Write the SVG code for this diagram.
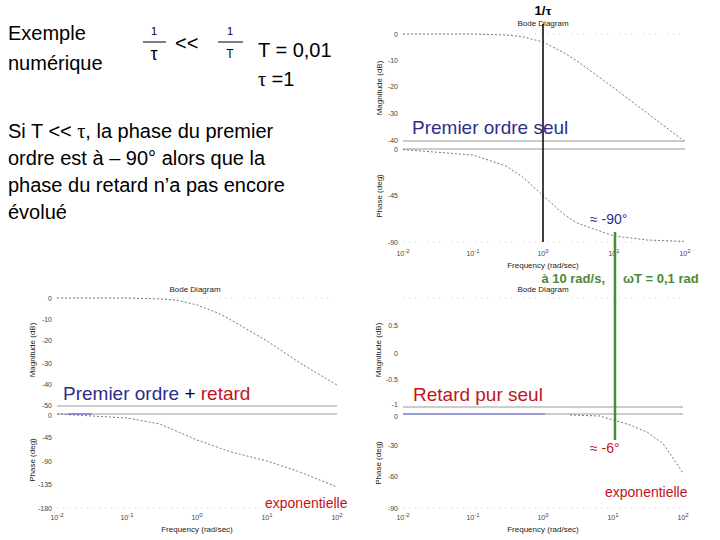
<svg xmlns="http://www.w3.org/2000/svg" width="720" height="540" viewBox="0 0 720 540">
<style>
text{font-family:"Liberation Sans",Arial,sans-serif}
.t{font-size:20px;fill:#000}
.tk{font-size:7px;fill:#444}
.ax{font-size:8px;fill:#222}
.sep{stroke:#999;stroke-width:1.2}
.cur{fill:none;stroke:#777;stroke-width:1;stroke-dasharray:2 2}
.dot{stroke:#ccc;stroke-width:1;stroke-dasharray:1 5}
.lb{font-size:19px}
</style>
<rect width="720" height="540" fill="#fff"/>
<g id="intro">
<text class="t" x="8" y="40">Exemple</text>
<text class="t" x="8" y="70">numérique</text>
<text x="154" y="35" font-size="11" text-anchor="middle">1</text>
<line x1="143" y1="42" x2="166" y2="42" stroke="#000"/>
<text x="154" y="60" font-size="18" font-family="Liberation Serif,serif" text-anchor="middle">τ</text>
<text class="t" x="175" y="50">&lt;&lt;</text>
<text x="230" y="35" font-size="11" text-anchor="middle">1</text>
<line x1="218" y1="42" x2="243" y2="42" stroke="#000"/>
<text x="230" y="58" font-size="12" text-anchor="middle">T</text>
<text class="t" x="258" y="57">T = 0,01</text>
<text class="t" x="258" y="86"><tspan font-family="Liberation Serif,serif">τ</tspan> =1</text>
<text class="t" x="8" y="138" font-size="21">Si T &lt;&lt; <tspan font-family="Liberation Serif,serif">τ</tspan>, la phase du premier</text>
<text class="t" x="8" y="165" font-size="21">ordre est à – 90° alors que la</text>
<text class="t" x="8" y="192" font-size="21">phase du retard n’a pas encore</text>
<text class="t" x="8" y="219" font-size="21">évolué</text>
</g>
<g id="plot-premier-ordre">
<text class="ax" x="543" y="26" text-anchor="middle">Bode Diagram</text>
<line class="dot" x1="403" y1="34" x2="685" y2="34"/>
<line class="dot" x1="403" y1="242" x2="685" y2="242"/>
<g class="tk" text-anchor="end">
<text x="398" y="37">0</text><text x="398" y="63">-10</text><text x="398" y="89">-20</text><text x="398" y="116">-30</text><text x="398" y="143">-40</text>
<text x="398" y="152">0</text><text x="398" y="198">-45</text><text x="398" y="245">-90</text>
</g>
<g class="tk" text-anchor="middle">
<text x="403" y="256">10<tspan dy="-3" font-size="6">-2</tspan></text><text x="473" y="256">10<tspan dy="-3" font-size="6">-1</tspan></text><text x="543" y="256">10<tspan dy="-3" font-size="6">0</tspan></text><text x="614" y="256">10<tspan dy="-3" font-size="6">1</tspan></text><text x="685" y="256">10<tspan dy="-3" font-size="6">2</tspan></text>
</g>
<text class="ax" x="543" y="268" text-anchor="middle">Frequency (rad/sec)</text>
<text class="ax" transform="translate(382,88) rotate(-90)" text-anchor="middle">Magnitude (dB)</text>
<text class="ax" transform="translate(382,196) rotate(-90)" text-anchor="middle">Phase (deg)</text>
<line class="sep" x1="403" y1="141" x2="685" y2="141"/>
<line class="sep" x1="403" y1="149" x2="685" y2="149"/>
<polyline class="cur" points="403,34 473,34 506,35 522,36.6 543,42 564,52.7 577,61 614,88 647,113 684,141"/>
<polyline class="cur" points="403,149.6 473,155 506,166 522,176.5 543,195.5 564,214.5 577,223 614,236 647,240 684,241.4"/>
<line x1="543" y1="24" x2="543" y2="242" stroke="#000" stroke-width="1.5"/>
<text x="543" y="15" font-size="13" font-weight="bold" text-anchor="middle">1/<tspan font-family="Liberation Serif,serif">τ</tspan></text>
<text class="lb" x="412" y="134" fill="#2e2e8a">Premier ordre seul</text>
<text x="590" y="224" font-size="14" fill="#2e2e8a">≈ -90°</text>
</g>
<g id="plot-premier-ordre-retard">
<text class="ax" x="195" y="292" text-anchor="middle">Bode Diagram</text>
<line class="dot" x1="57" y1="298" x2="337" y2="298"/>
<line class="dot" x1="57" y1="508" x2="337" y2="508"/>
<g class="tk" text-anchor="end">
<text x="52" y="301">0</text><text x="52" y="322">-10</text><text x="52" y="343">-20</text><text x="52" y="366">-30</text><text x="52" y="387">-40</text><text x="52" y="408">-50</text>
<text x="52" y="418">0</text><text x="52" y="440">-45</text><text x="52" y="464">-90</text><text x="52" y="487">-135</text><text x="52" y="511">-180</text>
</g>
<g class="tk" text-anchor="middle">
<text x="57" y="520">10<tspan dy="-3" font-size="6">-2</tspan></text><text x="127" y="520">10<tspan dy="-3" font-size="6">-1</tspan></text><text x="197" y="520">10<tspan dy="-3" font-size="6">0</tspan></text><text x="267" y="520">10<tspan dy="-3" font-size="6">1</tspan></text><text x="337" y="520">10<tspan dy="-3" font-size="6">2</tspan></text>
</g>
<text class="ax" x="197" y="532" text-anchor="middle">Frequency (rad/sec)</text>
<text class="ax" transform="translate(35,350) rotate(-90)" text-anchor="middle">Magnitude (dB)</text>
<text class="ax" transform="translate(35,460) rotate(-90)" text-anchor="middle">Phase (deg)</text>
<line class="sep" x1="57" y1="406" x2="337" y2="406"/>
<line class="sep" x1="57" y1="414" x2="337" y2="414"/>
<polyline class="cur" points="57,298 127,298 160,299 176,300 197,305 218,313 231,320 267,341 300,363 337,385"/>
<polyline class="cur" points="57,414 127,418 160,424 197,440 231,452 267,461 300,472 337,487"/>
<line x1="68" y1="414" x2="92" y2="414" stroke="#6a6ad0" stroke-width="1.2"/>
<text class="lb" x="63" y="400"><tspan fill="#2e2e8a">Premier ordre </tspan><tspan fill="#000">+ </tspan><tspan fill="#c0141c">retard</tspan></text>
<text x="265" y="508" font-size="14" fill="#c0141c">exponentielle</text>
</g>
<g id="plot-retard-pur">
<text class="ax" x="543" y="292" text-anchor="middle">Bode Diagram</text>
<line class="dot" x1="403" y1="298" x2="683" y2="298"/>
<line class="dot" x1="403" y1="508" x2="683" y2="508"/>
<g class="tk" text-anchor="end">
<text x="398" y="328">0.5</text><text x="398" y="356">0</text><text x="398" y="382">-0.5</text><text x="398" y="407">-1</text>
<text x="398" y="419">0</text><text x="398" y="448">-30</text><text x="398" y="479">-60</text><text x="398" y="511">-90</text>
</g>
<g class="tk" text-anchor="middle">
<text x="403" y="520">10<tspan dy="-3" font-size="6">-2</tspan></text><text x="473" y="520">10<tspan dy="-3" font-size="6">-1</tspan></text><text x="543" y="520">10<tspan dy="-3" font-size="6">0</tspan></text><text x="613" y="520">10<tspan dy="-3" font-size="6">1</tspan></text><text x="683" y="520">10<tspan dy="-3" font-size="6">2</tspan></text>
</g>
<text class="ax" x="543" y="532" text-anchor="middle">Frequency (rad/sec)</text>
<text class="ax" transform="translate(381,350) rotate(-90)" text-anchor="middle">Magnitude (dB)</text>
<text class="ax" transform="translate(381,463) rotate(-90)" text-anchor="middle">Phase (deg)</text>
<line class="sep" x1="403" y1="407" x2="683" y2="407"/>
<line class="sep" x1="403" y1="414" x2="683" y2="414"/>
<line x1="403" y1="414" x2="545" y2="414" stroke="#6a6ad0" stroke-width="1"/>
<polyline class="cur" points="570,415 600,416 613,420 630,425 647,432 663,443.6 683,473"/>
<text class="lb" x="413" y="401" fill="#c0141c">Retard pur seul</text>
<text x="590" y="453" font-size="14" fill="#c0141c">≈ -6°</text>
<text x="605" y="497" font-size="14" fill="#c0141c">exponentielle</text>
</g>
<g id="annotation">
<line x1="615" y1="232" x2="615" y2="440" stroke="#4a8a3a" stroke-width="2.5"/>
<text x="605" y="283" font-size="13" font-weight="bold" fill="#4a8a3a" text-anchor="end">à 10 rad/s,</text>
<text x="623" y="283" font-size="13" font-weight="bold" fill="#4a8a3a">ωT = 0,1 rad</text>
</g>
</svg>
